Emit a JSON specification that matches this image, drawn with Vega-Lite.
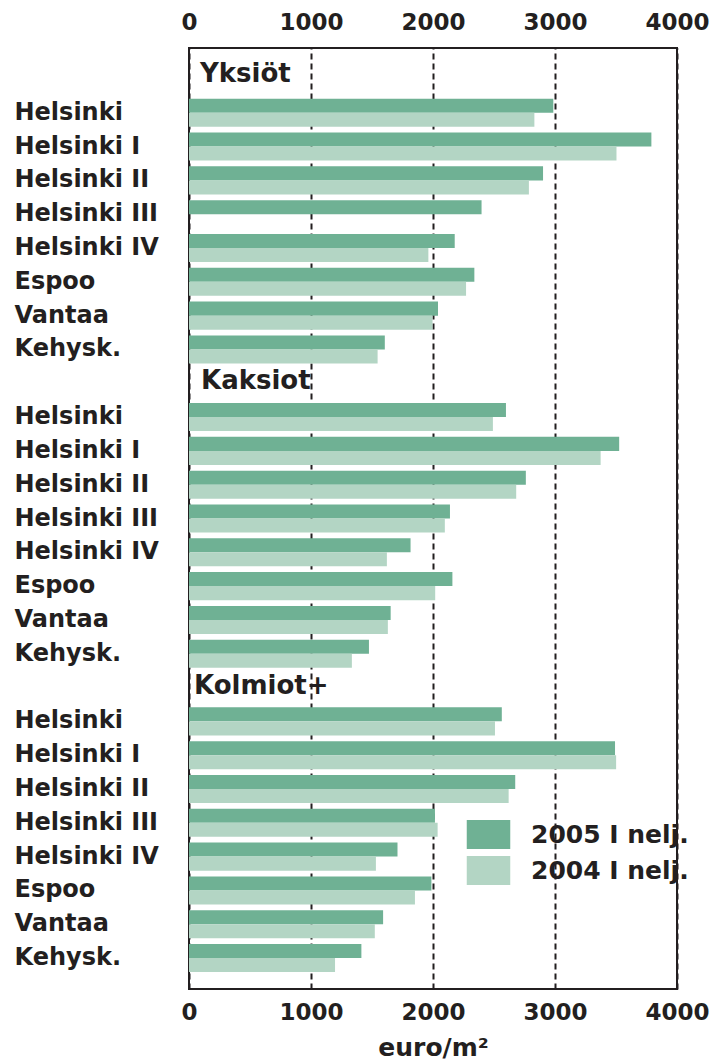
{
  "$schema": "https://vega.github.io/schema/vega-lite/v6.json",
  "width": 488,
  "height": 941,
  "autosize": {"type": "none"},
  "padding": {"left": 189, "top": 48, "right": 41, "bottom": 75},
  "background": "white",
  "config": {
    "view": {"stroke": "#231f20", "strokeWidth": 2},
    "font": "DejaVu Sans",
    "axis": {"labelFont": "DejaVu Sans", "labelFontWeight": "bold", "labelColor": "#231f20", "titleFont": "DejaVu Sans", "titleFontWeight": "bold", "titleColor": "#231f20"}
  },
  "datasets": {
    "bars": [
      {"row": "Yksiöt|Helsinki", "group": "Yksiöt", "area": "Helsinki", "series": "2005 I nelj.", "value": 2986},
      {"row": "Yksiöt|Helsinki", "group": "Yksiöt", "area": "Helsinki", "series": "2004 I nelj.", "value": 2831},
      {"row": "Yksiöt|Helsinki I", "group": "Yksiöt", "area": "Helsinki I", "series": "2005 I nelj.", "value": 3790},
      {"row": "Yksiöt|Helsinki I", "group": "Yksiöt", "area": "Helsinki I", "series": "2004 I nelj.", "value": 3504},
      {"row": "Yksiöt|Helsinki II", "group": "Yksiöt", "area": "Helsinki II", "series": "2005 I nelj.", "value": 2902},
      {"row": "Yksiöt|Helsinki II", "group": "Yksiöt", "area": "Helsinki II", "series": "2004 I nelj.", "value": 2786},
      {"row": "Yksiöt|Helsinki III", "group": "Yksiöt", "area": "Helsinki III", "series": "2005 I nelj.", "value": 2398},
      {"row": "Yksiöt|Helsinki IV", "group": "Yksiöt", "area": "Helsinki IV", "series": "2005 I nelj.", "value": 2178},
      {"row": "Yksiöt|Helsinki IV", "group": "Yksiöt", "area": "Helsinki IV", "series": "2004 I nelj.", "value": 1962},
      {"row": "Yksiöt|Espoo", "group": "Yksiöt", "area": "Espoo", "series": "2005 I nelj.", "value": 2339},
      {"row": "Yksiöt|Espoo", "group": "Yksiöt", "area": "Espoo", "series": "2004 I nelj.", "value": 2271},
      {"row": "Yksiöt|Vantaa", "group": "Yksiöt", "area": "Vantaa", "series": "2005 I nelj.", "value": 2041},
      {"row": "Yksiöt|Vantaa", "group": "Yksiöt", "area": "Vantaa", "series": "2004 I nelj.", "value": 1996},
      {"row": "Yksiöt|Kehysk.", "group": "Yksiöt", "area": "Kehysk.", "series": "2005 I nelj.", "value": 1605},
      {"row": "Yksiöt|Kehysk.", "group": "Yksiöt", "area": "Kehysk.", "series": "2004 I nelj.", "value": 1546},
      {"row": "Kaksiot|Helsinki", "group": "Kaksiot", "area": "Helsinki", "series": "2005 I nelj.", "value": 2598},
      {"row": "Kaksiot|Helsinki", "group": "Kaksiot", "area": "Helsinki", "series": "2004 I nelj.", "value": 2491},
      {"row": "Kaksiot|Helsinki I", "group": "Kaksiot", "area": "Helsinki I", "series": "2005 I nelj.", "value": 3526},
      {"row": "Kaksiot|Helsinki I", "group": "Kaksiot", "area": "Helsinki I", "series": "2004 I nelj.", "value": 3374},
      {"row": "Kaksiot|Helsinki II", "group": "Kaksiot", "area": "Helsinki II", "series": "2005 I nelj.", "value": 2761},
      {"row": "Kaksiot|Helsinki II", "group": "Kaksiot", "area": "Helsinki II", "series": "2004 I nelj.", "value": 2682},
      {"row": "Kaksiot|Helsinki III", "group": "Kaksiot", "area": "Helsinki III", "series": "2005 I nelj.", "value": 2139},
      {"row": "Kaksiot|Helsinki III", "group": "Kaksiot", "area": "Helsinki III", "series": "2004 I nelj.", "value": 2097},
      {"row": "Kaksiot|Helsinki IV", "group": "Kaksiot", "area": "Helsinki IV", "series": "2005 I nelj.", "value": 1816},
      {"row": "Kaksiot|Helsinki IV", "group": "Kaksiot", "area": "Helsinki IV", "series": "2004 I nelj.", "value": 1622},
      {"row": "Kaksiot|Espoo", "group": "Kaksiot", "area": "Espoo", "series": "2005 I nelj.", "value": 2159},
      {"row": "Kaksiot|Espoo", "group": "Kaksiot", "area": "Espoo", "series": "2004 I nelj.", "value": 2018},
      {"row": "Kaksiot|Vantaa", "group": "Kaksiot", "area": "Vantaa", "series": "2005 I nelj.", "value": 1653},
      {"row": "Kaksiot|Vantaa", "group": "Kaksiot", "area": "Vantaa", "series": "2004 I nelj.", "value": 1630},
      {"row": "Kaksiot|Kehysk.", "group": "Kaksiot", "area": "Kehysk.", "series": "2005 I nelj.", "value": 1475},
      {"row": "Kaksiot|Kehysk.", "group": "Kaksiot", "area": "Kehysk.", "series": "2004 I nelj.", "value": 1335},
      {"row": "Kolmiot+|Helsinki", "group": "Kolmiot+", "area": "Helsinki", "series": "2005 I nelj.", "value": 2564},
      {"row": "Kolmiot+|Helsinki", "group": "Kolmiot+", "area": "Helsinki", "series": "2004 I nelj.", "value": 2508},
      {"row": "Kolmiot+|Helsinki I", "group": "Kolmiot+", "area": "Helsinki I", "series": "2005 I nelj.", "value": 3492},
      {"row": "Kolmiot+|Helsinki I", "group": "Kolmiot+", "area": "Helsinki I", "series": "2004 I nelj.", "value": 3501},
      {"row": "Kolmiot+|Helsinki II", "group": "Kolmiot+", "area": "Helsinki II", "series": "2005 I nelj.", "value": 2674},
      {"row": "Kolmiot+|Helsinki II", "group": "Kolmiot+", "area": "Helsinki II", "series": "2004 I nelj.", "value": 2620},
      {"row": "Kolmiot+|Helsinki III", "group": "Kolmiot+", "area": "Helsinki III", "series": "2005 I nelj.", "value": 2016},
      {"row": "Kolmiot+|Helsinki III", "group": "Kolmiot+", "area": "Helsinki III", "series": "2004 I nelj.", "value": 2038},
      {"row": "Kolmiot+|Helsinki IV", "group": "Kolmiot+", "area": "Helsinki IV", "series": "2005 I nelj.", "value": 1709},
      {"row": "Kolmiot+|Helsinki IV", "group": "Kolmiot+", "area": "Helsinki IV", "series": "2004 I nelj.", "value": 1532},
      {"row": "Kolmiot+|Espoo", "group": "Kolmiot+", "area": "Espoo", "series": "2005 I nelj.", "value": 1987},
      {"row": "Kolmiot+|Espoo", "group": "Kolmiot+", "area": "Espoo", "series": "2004 I nelj.", "value": 1852},
      {"row": "Kolmiot+|Vantaa", "group": "Kolmiot+", "area": "Vantaa", "series": "2005 I nelj.", "value": 1591},
      {"row": "Kolmiot+|Vantaa", "group": "Kolmiot+", "area": "Vantaa", "series": "2004 I nelj.", "value": 1523},
      {"row": "Kolmiot+|Kehysk.", "group": "Kolmiot+", "area": "Kehysk.", "series": "2005 I nelj.", "value": 1413},
      {"row": "Kolmiot+|Kehysk.", "group": "Kolmiot+", "area": "Kehysk.", "series": "2004 I nelj.", "value": 1197}
    ],
    "headers": [
      {"row": "Yksiöt", "label": "Yksiöt"},
      {"row": "Kaksiot", "label": "Kaksiot"},
      {"row": "Kolmiot+", "label": "Kolmiot+"}
    ]
  },
  "resolve": {"axis": {"x": "independent"}},
  "layer": [
    {
      "data": {"name": "bars"},
      "mark": {"type": "bar", "cornerRadius": 0},
      "encoding": {
        "y": {
          "field": "row",
          "type": "nominal",
          "scale": {
            "domain": ["Yksiöt", "Yksiöt|Helsinki", "Yksiöt|Helsinki I", "Yksiöt|Helsinki II", "Yksiöt|Helsinki III", "Yksiöt|Helsinki IV", "Yksiöt|Espoo", "Yksiöt|Vantaa", "Yksiöt|Kehysk.",
                       "Kaksiot", "Kaksiot|Helsinki", "Kaksiot|Helsinki I", "Kaksiot|Helsinki II", "Kaksiot|Helsinki III", "Kaksiot|Helsinki IV", "Kaksiot|Espoo", "Kaksiot|Vantaa", "Kaksiot|Kehysk.",
                       "Kolmiot+", "Kolmiot+|Helsinki", "Kolmiot+|Helsinki I", "Kolmiot+|Helsinki II", "Kolmiot+|Helsinki III", "Kolmiot+|Helsinki IV", "Kolmiot+|Espoo", "Kolmiot+|Vantaa", "Kolmiot+|Kehysk."],
            "paddingInner": 0.17,
            "paddingOuter": 0.5
          },
          "axis": {
            "title": null,
            "domain": false,
            "ticks": false,
            "tickSize": 0,
            "grid": false,
            "labelAlign": "left",
            "labelBaseline": "middle",
            "labelPadding": 175,
            "labelFontSize": 24,
            "labelLimit": 300,
            "labelExpr": "indexof(datum.label, '|') >= 0 ? split(datum.label, '|')[1] : ''"
          }
        },
        "x": {
          "field": "value",
          "type": "quantitative",
          "scale": {"domain": [0, 4000], "nice": false},
          "axis": {
            "orient": "bottom",
            "values": [0, 1000, 2000, 3000, 4000],
            "format": "d",
            "domain": false,
            "ticks": false,
            "tickSize": 0,
            "labelFontSize": 23,
            "labelPadding": 12,
            "labelFlush": false,
            "grid": true,
            "gridColor": "#231f20",
            "gridWidth": 2,
            "gridDash": [6, 4],
            "title": "euro/m²",
            "titleFontSize": 25,
            "titlePadding": 11
          }
        },
        "yOffset": {"field": "series", "type": "nominal", "scale": {"domain": ["2005 I nelj.", "2004 I nelj."]}},
        "color": {
          "field": "series",
          "type": "nominal",
          "scale": {"domain": ["2005 I nelj.", "2004 I nelj."], "range": ["#6fb194", "#b3d5c4"]},
          "legend": {
            "orient": "none",
            "legendX": 285,
            "legendY": 772,
            "title": null,
            "padding": 0,
            "symbolType": "M-1.5,-1H1.5V1H-1.5Z",
            "symbolSize": 841,
            "symbolStrokeWidth": 0,
            "symbolOpacity": 1,
            "labelFont": "DejaVu Sans",
            "labelFontWeight": "bold",
            "labelFontSize": 25,
            "labelColor": "#231f20",
            "labelOffset": 28,
            "labelLimit": 300,
            "rowPadding": 7
          }
        }
      }
    },
    {
      "data": {"name": "headers"},
      "transform": [{"filter": "datum.label == 'Yksiöt'"}],
      "mark": {"type": "text", "align": "left", "baseline": "middle", "dx": 11, "dy": -5, "fontSize": 26, "fontWeight": "bold", "font": "DejaVu Sans", "color": "#231f20"},
      "encoding": {
        "y": {"field": "row", "type": "nominal"},
        "x": {
          "datum": 0,
          "type": "quantitative",
          "axis": {
            "orient": "top",
            "values": [0, 1000, 2000, 3000, 4000],
            "format": "d",
            "domain": false,
            "ticks": false,
            "tickSize": 0,
            "grid": false,
            "labelFontSize": 23,
            "labelPadding": 14,
            "labelFlush": false,
            "title": null
          }
        },
        "text": {"field": "label"}
      }
    },
    {
      "data": {"name": "headers"},
      "transform": [{"filter": "datum.label == 'Kaksiot'"}],
      "mark": {"type": "text", "align": "left", "baseline": "middle", "dx": 12, "dy": -2, "fontSize": 26, "fontWeight": "bold", "font": "DejaVu Sans", "color": "#231f20"},
      "encoding": {
        "y": {"field": "row", "type": "nominal"},
        "x": {"datum": 0, "type": "quantitative", "axis": null},
        "text": {"field": "label"}
      }
    },
    {
      "data": {"name": "headers"},
      "transform": [{"filter": "datum.label == 'Kolmiot+'"}],
      "mark": {"type": "text", "align": "left", "baseline": "middle", "dx": 5, "dy": -2, "fontSize": 26, "fontWeight": "bold", "font": "DejaVu Sans", "color": "#231f20"},
      "encoding": {
        "y": {"field": "row", "type": "nominal"},
        "x": {"datum": 0, "type": "quantitative", "axis": null},
        "text": {"field": "label"}
      }
    }
  ]
}
